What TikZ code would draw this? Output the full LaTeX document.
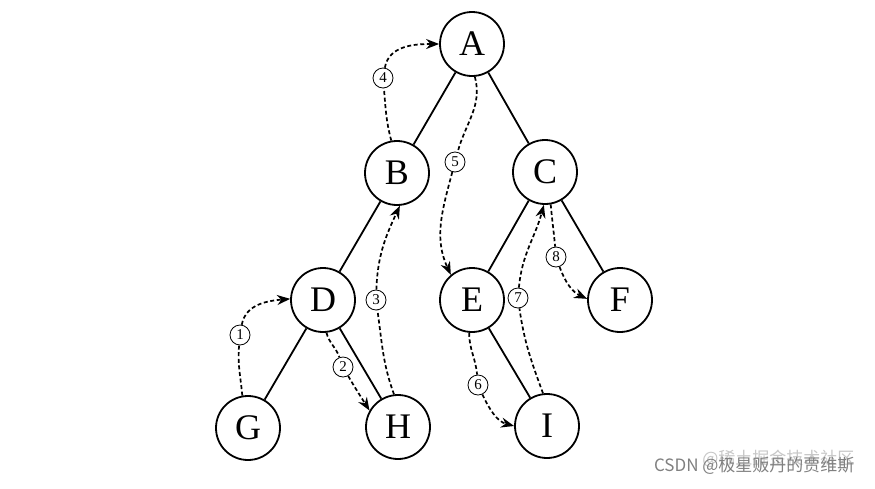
\documentclass[tikz,border=0pt]{standalone}
\usepackage{fontspec}
\setmainfont{Liberation Serif}
\newfontfamily\cjk{Noto Sans CJK SC}
\usetikzlibrary{arrows.meta}
\begin{document}
\begin{tikzpicture}[x=1pt,y=1pt,
  vert/.style={circle,draw,line width=1.8pt,minimum size=64pt,inner sep=0pt,font=\fontsize{36}{36}\selectfont},
  tag/.style={circle,draw,line width=0.8pt,minimum size=20pt,inner sep=0pt,font=\fontsize{15}{15}\selectfont},
  edge/.style={line width=1.8pt},
  plain/.style={line width=1.7pt,dash pattern=on 4pt off 2.6pt},
  trav/.style={plain,-{Stealth[length=13pt,width=10pt]}},
  mark1/.style={anchor=east,font=\cjk\fontsize{17}{17}\selectfont},
]
\useasboundingbox (0,-488) rectangle (875,0);
\fill[white] (0,-488) rectangle (875,0);

% vertices
\node[vert] (A) at (472,-44) {A};
\node[vert] (B) at (397,-173) {B};
\node[vert] (C) at (545,-172) {C};
\node[vert] (D) at (323,-300) {D};
\node[vert] (E) at (472,-300) {E};
\node[vert] (F) at (620,-300) {F};
\node[vert] (G) at (248,-428) {G};
\node[vert] (H) at (398,-427) {H};
\node[vert] (I) at (547,-426) {I};

% tree edges
\draw[edge] (A) -- (B);
\draw[edge] (A) -- (C);
\draw[edge] (B) -- (D);
\draw[edge] (C) -- (E);
\draw[edge] (C) -- (F);
\draw[edge] (D) -- (G);
\draw[edge] (D) -- (H);
\draw[edge] (E) -- (I);

% step labels
\node[tag] (l1) at (240,-335) {1};
\node[tag] (l2) at (343,-367) {2};
\node[tag] (l3) at (376,-300) {3};
\node[tag] (l4) at (383,-78) {4};
\node[tag] (l5) at (455,-162) {5};
\node[tag] (l6) at (478,-385) {6};
\node[tag] (l7) at (518,-298) {7};
\node[tag] (l8) at (556,-257) {8};

% traversal steps
\draw[plain] (G.100) to[out=95,in=-95] (l1);
\draw[trav] (l1) to[out=80,in=185] (D.178);

\draw[plain] (D.-84) to[out=-75,in=110] (l2);
\draw[trav] (l2) to[out=-60,in=122] (H.150);

\draw[plain] (H.97) to[out=110,in=-82] (l3);
\draw[trav] (l3) to[out=88,in=-115] (B.-85);

\draw[plain] (B.100) to[out=105,in=-85] (l4);
\draw[trav] (l4) to[out=80,in=180] (A.180);

\draw[plain] (A.-85) to[out=-75,in=75] (l5);
\draw[trav] (l5) to[out=-105,in=115] (E.130);

\draw[plain] (E.-95) to[out=-90,in=95] (l6);
\draw[trav] (l6) to[out=-65,in=165] (I.180);

\draw[plain] (I.97) to[out=110,in=-82] (l7);
\draw[trav] (l7) to[out=85,in=-105] (C.-92);

\draw[plain] (C.-80) to[out=-85,in=95] (l8);
\draw[trav] (l8) to[out=-70,in=155] (F.178);

% watermark
\node[mark1,text=black!22] (wm2) at (858,-459) {@稀土掘金技术社区};
\node[mark1,text=black!50] (wm1) at (858,-466) {CSDN @极星贩丹的贾维斯};
\end{tikzpicture}
\end{document}
